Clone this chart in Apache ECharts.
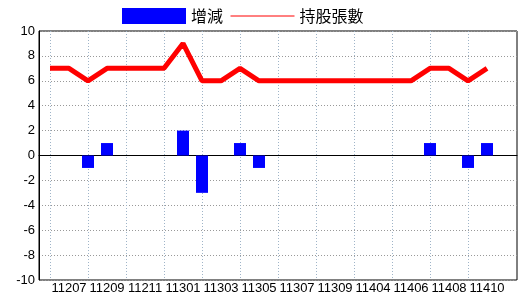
<!DOCTYPE html>
<html>
<head>
<meta charset="utf-8">
<script src="https://cdn.jsdelivr.net/npm/echarts@6/dist/echarts.min.js"></script>
<style>html,body{margin:0;padding:0;background:#fff;}#c{width:520px;height:300px;}</style>
</head>
<body>
<div id="c"></div>
<script>
var categories = ['11206','11207','11208','11209','11210','11211','11212','11301','11302','11303','11304','11305','11306','11307','11308','11309','11310','11404','11405','11406','11407','11408','11409','11410'];
var changeValues = [0,0,-1,1,0,0,0,2,-3,0,1,-1,0,0,0,0,0,0,0,0,1,0,-1,1];
var holderValues = [7,7,6,7,7,7,7,9,6,6,7,6,6,6,6,6,6,6,6,6,7,7,6,7];
var yTicks = [-10,-8,-6,-4,-2,0,2,4,6,8,10];
var seriesNames = ['增減','持股張數'];

var chart = echarts.init(document.getElementById('c'), null, {renderer:'canvas'});
var fontLabel = '"Liberation Sans Narrow", "Liberation Sans", Arial, sans-serif';
var option = {
  animation: false,
  backgroundColor: '#fff',
  legend: {
    left: 122, top: 8, itemWidth: 64, itemHeight: 16, itemGap: 7, padding: 0,
    textStyle: {fontFamily: '"Noto Sans CJK TC", sans-serif', fontSize: 16, color: '#000'},
    data: [
      {name: seriesNames[0], icon: 'rect'},
      {name: seriesNames[1], lineStyle: {width: 1}, itemStyle: {opacity: 0}}
    ]
  },
  grid: [
    {left: 50, right: 33, top: 31, bottom: 20, show: false},
    {left: 39, right: 3, top: 31, bottom: 20, show: true, borderColor: '#000', borderWidth: 1, backgroundColor: 'transparent'}
  ],
  xAxis: [
    {
      type: 'category', gridIndex: 0, data: categories, boundaryGap: false,
      axisLine: {show: false}, axisTick: {show: false},
      axisLabel: {interval: function(i){return i % 2 === 1;}, color: '#000', fontSize: 13, fontFamily: fontLabel, margin: 2},
      splitLine: {show: true, interval: function(i){return i % 2 === 0;}, lineStyle: {color: '#9fb4c8', type: [1,2], width: 1}}
    },
    {
      type: 'value', gridIndex: 1, min: 0, max: 1,
      axisLine: {show: true, onZero: true, lineStyle: {color: '#000', width: 1}},
      axisTick: {show: false}, axisLabel: {show: false}, splitLine: {show: false}
    }
  ],
  yAxis: [
    {type: 'value', gridIndex: 0, min: -10, max: 10, interval: 2, show: false, splitLine: {show: false}},
    {
      type: 'value', gridIndex: 1, min: yTicks[0], max: yTicks[yTicks.length-1], interval: 2,
      axisLine: {show: true, lineStyle: {color: '#000'}}, axisTick: {show: false},
      axisLabel: {color: '#000', fontSize: 13, fontFamily: fontLabel, margin: 4},
      splitLine: {show: true, lineStyle: {color: '#999', type: [1,2], width: 1}}
    }
  ],
  series: [
    {
      name: seriesNames[0], type: 'bar', xAxisIndex: 0, yAxisIndex: 0,
      data: changeValues, barWidth: 12, itemStyle: {color: '#0000ff'}, z: 3
    },
    {
      name: seriesNames[1], type: 'line', xAxisIndex: 0, yAxisIndex: 0,
      data: holderValues, symbol: 'none', lineStyle: {color: '#ff0000', width: 5}, itemStyle: {color: '#ff0000'}, z: 4
    }
  ]
};
chart.setOption(option);
</script>
</body>
</html>
